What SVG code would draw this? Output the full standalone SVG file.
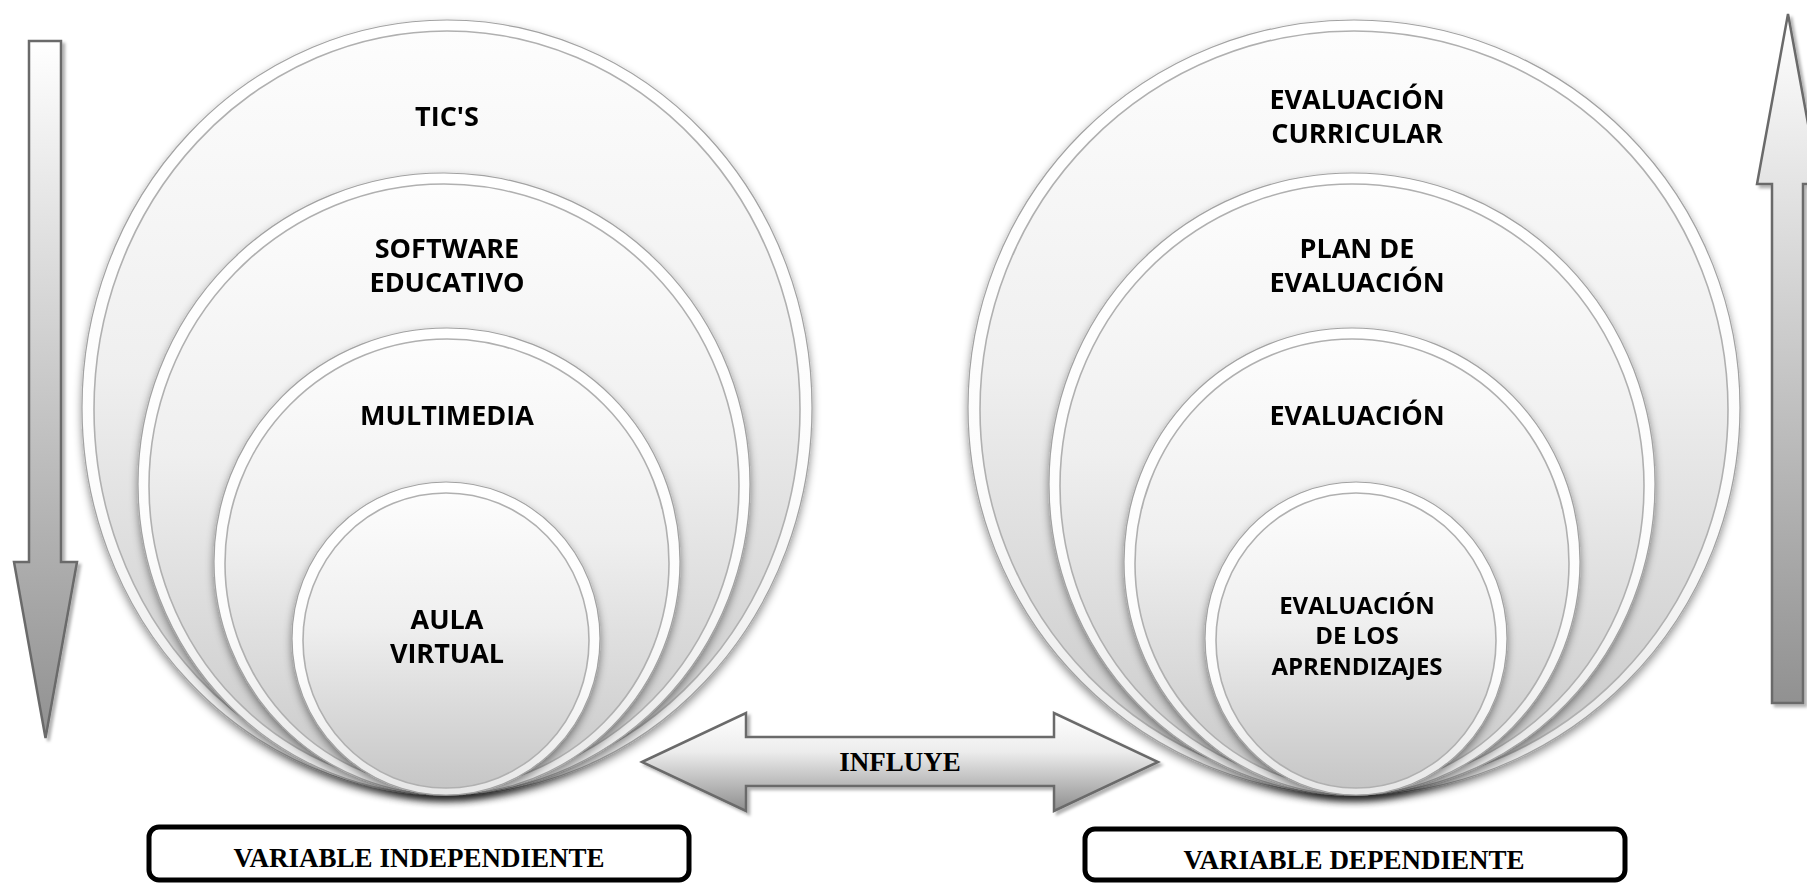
<svg xmlns="http://www.w3.org/2000/svg" width="1807" height="884" viewBox="0 0 1807 884">
  <defs>
    <linearGradient id="ring" x1="0" y1="0" x2="0" y2="1">
      <stop offset="0" stop-color="#ffffff"/>
      <stop offset="0.6" stop-color="#fcfcfc"/>
      <stop offset="1" stop-color="#e6e6e6"/>
    </linearGradient>
    <linearGradient id="core" x1="0" y1="0" x2="0" y2="1">
      <stop offset="0" stop-color="#fdfdfd"/>
      <stop offset="0.45" stop-color="#efefef"/>
      <stop offset="1" stop-color="#c6c6c6"/>
    </linearGradient>
    <linearGradient id="arrowV" x1="0" y1="0" x2="0" y2="1">
      <stop offset="0" stop-color="#ffffff"/>
      <stop offset="1" stop-color="#919191"/>
    </linearGradient>
    <linearGradient id="arrowH" x1="0" y1="0" x2="0" y2="1">
      <stop offset="0" stop-color="#ffffff"/>
      <stop offset="0.4" stop-color="#ececec"/>
      <stop offset="1" stop-color="#8e8e8e"/>
    </linearGradient>
    <filter id="circShadow" x="-10%" y="-10%" width="120%" height="125%">
      <feDropShadow dx="0" dy="4" stdDeviation="4" flood-color="#000" flood-opacity="0.45"/>
    </filter>
    <filter id="arrShadow" x="-20%" y="-20%" width="140%" height="140%">
      <feDropShadow dx="3" dy="3" stdDeviation="1.5" flood-color="#000" flood-opacity="0.3"/>
    </filter>
  </defs>
  <style>
    .rim { fill: url(#ring); stroke: #a2a2a2; stroke-width: 1.2; }
    .core { fill: url(#core); stroke: #b0b0b0; stroke-width: 1.6; }
    .lbl { font-family: "Open Sans", "Liberation Sans", sans-serif; font-weight: 700; font-size: 27px; text-anchor: middle; fill: #000; }
    .sm { font-size: 24px; }
    .ser { font-family: "Liberation Serif", "Times New Roman", serif; font-weight: 700; font-size: 27px; text-anchor: middle; fill: #000; }
    .arrow { stroke: #6a6a6a; stroke-width: 2.5; stroke-linejoin: miter; }
    .box { fill: #fff; stroke: #000; stroke-width: 5; }
  </style>
  <rect width="1807" height="884" fill="#ffffff"/>

  <!-- Left group: Variable independiente -->
  <g id="tics" filter="url(#circShadow)">
    <ellipse class="rim" cx="447" cy="407.5" rx="365" ry="387.5"/>
    <ellipse class="core" cx="447" cy="409.5" rx="353" ry="378.5"/>
    <text class="lbl" x="447" y="126">TIC'S</text>
  </g>
  <g id="software" filter="url(#circShadow)">
    <ellipse class="rim" cx="444" cy="484" rx="306" ry="311"/>
    <ellipse class="core" cx="444" cy="486" rx="295" ry="302"/>
    <text class="lbl" x="447" y="258">SOFTWARE</text>
    <text class="lbl" x="447" y="292">EDUCATIVO</text>
  </g>
  <g id="multimedia" filter="url(#circShadow)">
    <ellipse class="rim" cx="447" cy="561.5" rx="233" ry="233.5"/>
    <ellipse class="core" cx="447" cy="563.5" rx="222" ry="224.5"/>
    <text class="lbl" x="447" y="425">MULTIMEDIA</text>
  </g>
  <g id="aula" filter="url(#circShadow)">
    <ellipse class="rim" cx="446" cy="638.5" rx="154" ry="156.5"/>
    <ellipse class="core" cx="446" cy="640.5" rx="143" ry="147.5"/>
    <text class="lbl" x="447" y="629">AULA</text>
    <text class="lbl" x="447" y="663">VIRTUAL</text>
  </g>

  <!-- Right group: Variable dependiente -->
  <g id="eval-curricular" filter="url(#circShadow)">
    <ellipse class="rim" cx="1354" cy="407.5" rx="386" ry="387.5"/>
    <ellipse class="core" cx="1354" cy="409.5" rx="374" ry="378.5"/>
    <text class="lbl" x="1357" y="109">EVALUACIÓN</text>
    <text class="lbl" x="1357" y="143">CURRICULAR</text>
  </g>
  <g id="plan-evaluacion" filter="url(#circShadow)">
    <ellipse class="rim" cx="1352" cy="484" rx="303" ry="311"/>
    <ellipse class="core" cx="1352" cy="486" rx="292" ry="302"/>
    <text class="lbl" x="1357" y="258">PLAN DE</text>
    <text class="lbl" x="1357" y="292">EVALUACIÓN</text>
  </g>
  <g id="evaluacion" filter="url(#circShadow)">
    <ellipse class="rim" cx="1352" cy="561.5" rx="228" ry="233.5"/>
    <ellipse class="core" cx="1352" cy="563.5" rx="217" ry="224.5"/>
    <text class="lbl" x="1357" y="425">EVALUACIÓN</text>
  </g>
  <g id="eval-aprendizajes" filter="url(#circShadow)">
    <ellipse class="rim" cx="1356" cy="638.5" rx="151" ry="156.5"/>
    <ellipse class="core" cx="1356" cy="640.5" rx="140" ry="147.5"/>
    <text class="lbl sm" x="1357" y="614">EVALUACIÓN</text>
    <text class="lbl sm" x="1357" y="644">DE LOS</text>
    <text class="lbl sm" x="1357" y="675">APRENDIZAJES</text>
  </g>

  <!-- Connectors / arrows -->
  <g id="connectors">
    <path id="arrow-down" class="arrow" fill="url(#arrowV)" filter="url(#arrShadow)"
          d="M29,41 H61 V562 H77 L45.5,738 L14,562 H29 Z"/>
    <path id="arrow-up" class="arrow" fill="url(#arrowV)" filter="url(#arrShadow)"
          d="M1788,14 L1819,184 H1803 V703 H1772 V184 H1757 Z"/>
    <g id="influye">
      <path class="arrow" fill="url(#arrowH)" filter="url(#arrShadow)"
            d="M642,762 L746,713 V737 H1054 V713 L1158,762 L1054,811 V786 H746 V811 Z"/>
      <text class="ser" x="900" y="771">INFLUYE</text>
    </g>
  </g>

  <!-- Labels -->
  <g id="var-independiente">
    <rect class="box" x="149" y="827" width="540" height="53" rx="10"/>
    <text class="ser" x="419" y="867">VARIABLE INDEPENDIENTE</text>
  </g>
  <g id="var-dependiente">
    <rect class="box" x="1085" y="829" width="540" height="51" rx="10"/>
    <text class="ser" x="1354" y="869">VARIABLE DEPENDIENTE</text>
  </g>
</svg>
